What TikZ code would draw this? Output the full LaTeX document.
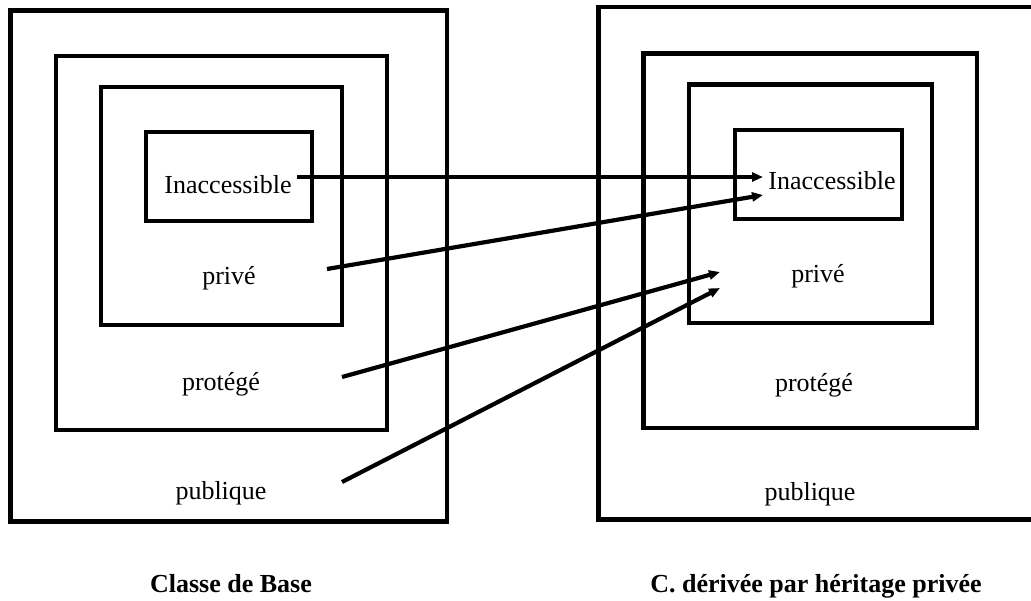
\documentclass[tikz,border=0pt]{standalone}
\usepackage{fontspec}
\setmainfont{Liberation Serif}
\usetikzlibrary{arrows.meta,fit}
\begin{document}
\begin{tikzpicture}[x=0.5pt,y=-0.5pt,
  box/.style={draw,line width=2.25pt,inner sep=0pt,outer sep=0pt},
  lbl/.style={anchor=base,font=\fontsize{13}{15}\selectfont,inner sep=0pt},
  captxt/.style={anchor=base,font=\fontsize{13}{15}\selectfont\bfseries,inner sep=0pt},
  arr/.style={line width=2.1pt,-{Triangle[length=5.5pt,width=4.5pt]}}]
\useasboundingbox (0,0) rectangle (1031,600);
% left panel
\node[box,fit={(10.5,10.5) (447,521.5)}] (LA) {};
\node[box,fit={(56,56) (387,430)}] (LB) {};
\node[box,fit={(101,87) (342,325)}] (LC) {};
\node[box,fit={(146,132) (312,221)}] (LD) {};
\node[lbl] (Lina) at (228,193) {Inaccessible};
\node[lbl] (Lpri) at (229,284) {privé};
\node[lbl] (Lpro) at (221,390) {protégé};
\node[lbl] (Lpub) at (221,499) {publique};
\node[captxt] (Lcap) at (231,592) {Classe de Base};
% right panel
\node[box,fit={(598.5,7) (1040,519.5)}] (RA) {};
\node[box,fit={(643.5,53.5) (977,428)}] (RB) {};
\node[box,fit={(689,84.5) (932,323)}] (RC) {};
\node[box,fit={(735,130) (902,219)}] (RD) {};
\node[lbl] (Rina) at (832,189) {Inaccessible};
\node[lbl] (Rpri) at (818,282) {privé};
\node[lbl] (Rpro) at (814,391) {protégé};
\node[lbl] (Rpub) at (810,500) {publique};
\node[captxt] (Rcap) at (816,592) {C. dérivée par héritage privée};
% arrows
\coordinate (s1) at (297,177);
\coordinate (e1) at (763,177);
\coordinate (s2) at (327,269);
\coordinate (e2) at (763,195);
\coordinate (s3) at (342,377);
\coordinate (e3) at (720,272);
\coordinate (s4) at (342,482);
\coordinate (e4) at (720,288);
\draw[arr] (s1) -- (e1);
\draw[arr] (s2) -- (e2);
\draw[arr] (s3) -- (e3);
\draw[arr] (s4) -- (e4);
\end{tikzpicture}
\end{document}
